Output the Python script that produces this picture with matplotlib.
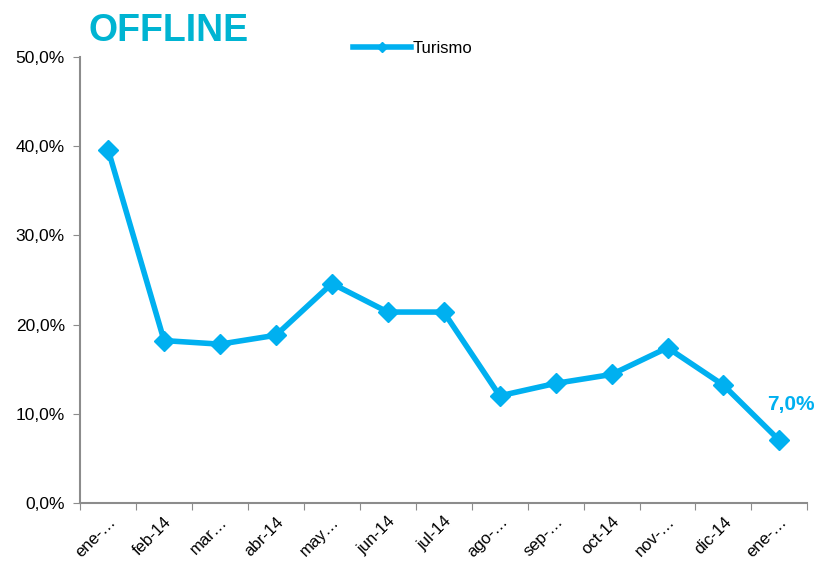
import numpy as np
import matplotlib.pyplot as plt
from matplotlib.ticker import FuncFormatter

plt.rcParams['font.family'] = ['Liberation Sans', 'DejaVu Sans']

months = ["ene-…", "feb-14", "mar…", "abr-14", "may…", "jun-14", "jul-14",
          "ago-…", "sep-…", "oct-14", "nov-…", "dic-14", "ene-…"]
turismo = [39.6, 18.2, 17.8, 18.8, 24.6, 21.4, 21.4, 12.0, 13.4, 14.4, 17.4, 13.2, 7.0]

blue = "#00B0F0"
grey = "#8c8c8c"

fig = plt.figure(figsize=(8.18, 5.65), dpi=100)
ax = fig.add_axes([0.098, 0.110, 0.889, 0.789])

x = np.arange(len(months))
ax.plot(x, turismo, color=blue, lw=4, marker="D", markersize=10,
        markeredgecolor=blue, label="Turismo")

ax.annotate(f"{turismo[-1]:.1f}%".replace(".", ","), (x[-1], turismo[-1]),
            xytext=(8, 22), textcoords="offset points", ha="center", va="baseline",
            fontsize=15, fontweight="bold", color=blue)

ax.set_xlim(-0.5, len(months) - 0.5)
ax.set_ylim(0, 50)
ax.set_yticks(np.arange(0, 51, 10))
ax.yaxis.set_major_formatter(FuncFormatter(lambda v, p: f"{v:.1f}%".replace(".", ",")))

# ticks between categories, labels at centres
ax.set_xticks(np.arange(-0.5, len(months), 1))
ax.set_xticklabels([])
ax.set_xticks(x, minor=True)
ax.set_xticklabels(months, minor=True, rotation=45, ha="right", rotation_mode="anchor",
                   fontsize=12)
ax.tick_params(axis="x", which="minor", length=0, pad=8)
ax.tick_params(axis="x", which="major", length=5, direction="out", color=grey)
ax.tick_params(axis="y", length=5, direction="out", color=grey, labelsize=12.5, pad=6)

for s in ["top", "right"]:
    ax.spines[s].set_visible(False)
for s in ["left", "bottom"]:
    ax.spines[s].set_color(grey)
    ax.spines[s].set_linewidth(1.5)

fig.text(0.108, 0.945, "OFFLINE", fontsize=27, fontweight="bold", color="#00B4D2",
         va="center")

ax.legend(loc="center", bbox_to_anchor=(0.457, 1.02), frameon=False,
          fontsize=12, handlelength=3.5, markerscale=0.5, handletextpad=0.1)

fig.savefig("out.png", dpi=100)
